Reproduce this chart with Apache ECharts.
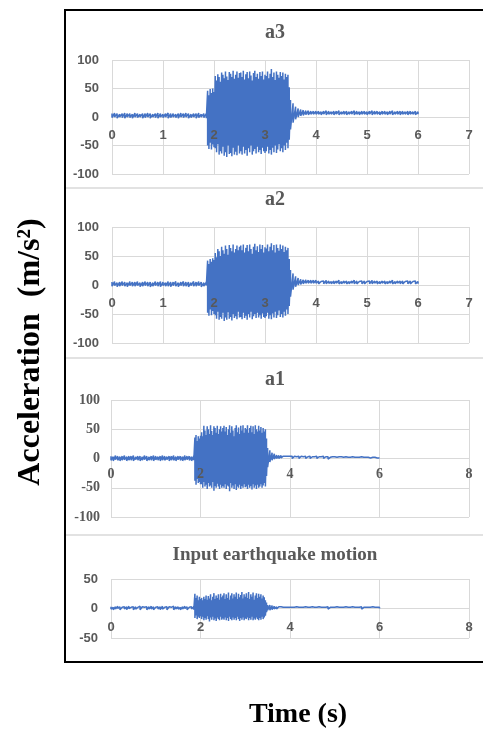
<!DOCTYPE html>
<html>
<head>
<meta charset="utf-8">
<script src="https://cdn.jsdelivr.net/npm/echarts@6/dist/echarts.min.js"></script>
<style>
html, body { margin: 0; padding: 0; background: #fff; }
#main { width: 483px; height: 731px; }
</style>
</head>
<body>
<div id="main"></div>
<script>
// sampling of the records: before shaking, strong shaking, decay, tail
var segStart = [0, 1.875, 3.55, 4.05];
var segStep = [0.05, 0.025, 0.05, 0.05];
var segCount = [38, 66, 10, 40];

// peak (hi) and trough (lo) readings at each sample, m/s2
var a3Hi = [].concat(
    [6,7,6,5,6,7,6,6,5,7, 6,5,6,6,7,6,5,6,7,6, 5,6,7,6,6,5,6,7,6,7, 6,5,6,6,7,5,6,6],
    [46,38,49,42,50,44, 72,64,75,70,62,78,74,68,80,71,65,79,76,70,81,67,74,80,69,77,
     78,70,81,66,75,79,68,80,73,64,77,81,70,76,67,79,72,80,66,74,
     72,80,68,76,84,70,78,65,80,74,69,79,72,78,66,76,70,74,52,30],
    [24,18,15,13,12,11,11,10,10,10],
    [10,9,10,11,10,9,10,10,11,9, 10,10,9,10,11,10,9,10,10,9, 10,11,10,10,9,10,10,9,10,11, 9,10,10,10,9,10,10,9,10,9]
);
var a3Lo = [].concat(
    [-1,0,-2,0,-1,-2,0,-1,-2,0, -1,0,-2,-1,0,-2,0,-1,-2,0, -1,0,-2,-1,0,-1,-2,0,-1,0, -2,-1,0,-2,-1,0,-1,-2],
    [-50,-56,-45,-57,-48,-53, -55,-62,-48,-66,-60,-64,-52,-68,-62,-70,-50,-65,-63,-69,-54,-66,-61,-67,-50,-64,
     -60,-66,-52,-64,-58,-68,-55,-62,-50,-66,-60,-56,-64,-52,-62,-58,-65,-54,-60,-63,
     -60,-52,-64,-58,-66,-54,-62,-50,-63,-57,-48,-60,-55,-62,-50,-58,-45,-55,-40,-22],
    [-10,-4,0,2,3,4,4,5,5,5],
    [5,4,5,4,5,5,4,5,4,5, 5,4,5,5,4,5,4,5,5,4, 5,4,5,5,4,5,5,4,5,4, 5,5,4,5,5,4,5,5,4,5]
);

var a2Hi = [].concat(
    [5,6,4,5,6,5,4,6,5,5, 6,4,5,6,5,5,4,6,5,6, 5,4,6,5,5,6,4,5,6,5, 5,4,6,5,6,5,4,5],
    [42,36,45,40,46,43, 55,48,62,58,50,66,60,54,68,62,52,69,64,58,70,56,62,68,60,66,
     68,60,70,56,64,69,58,70,62,54,66,71,60,67,57,70,62,69,56,65,
     63,70,58,66,72,60,69,56,70,64,59,70,62,68,57,66,60,64,45,26],
    [20,15,12,10,9,9,8,8,8,8],
    [7,6,7,8,7,6,7,7,8,6, 7,7,6,7,8,7,6,7,7,6, 7,8,7,7,6,7,7,6,7,8, 6,7,7,7,6,7,7,6,7,6]
);
var a2Lo = [].concat(
    [-2,-1,-3,-2,-1,-2,-3,-1,-2,-2, -1,-3,-2,-1,-2,-3,-2,-1,-2,-3, -1,-2,-2,-3,-1,-2,-3,-1,-2,-2, -3,-1,-2,-2,-1,-3,-2,-1],
    [-48,-53,-42,-52,-45,-50, -52,-58,-46,-60,-55,-58,-48,-62,-56,-60,-47,-58,-55,-61,-50,-57,-54,-59,-46,-56,
     -55,-59,-48,-57,-53,-60,-50,-56,-46,-59,-54,-50,-57,-48,-56,-52,-58,-49,-55,-57,
     -54,-48,-58,-52,-59,-49,-56,-46,-57,-52,-44,-55,-50,-56,-46,-53,-42,-50,-36,-20],
    [-8,-3,0,1,2,3,3,3,3,3],
    [2,3,2,2,3,2,2,3,2,2, 3,2,2,3,2,2,3,2,2,3, 2,2,3,2,2,3,2,2,3,2, 2,3,2,2,3,2,2,3,2,2]
);

var a1Hi = [].concat(
    [4,3,5,4,3,4,5,3,4,4, 5,3,4,4,3,5,4,3,4,5, 4,3,4,5,4,3,4,4,5,3, 4,4,3,5,4,4,3,4],
    [36,40,30,38,34,39, 45,38,56,48,40,55,50,42,57,47,40,55,52,44,56,42,50,55,46,52,
     56,46,54,40,50,57,44,55,48,38,52,57,45,53,42,56,48,57,44,52,
     50,57,44,52,56,45,55,42,57,50,46,56,48,54,44,52,46,50,34,18],
    [14,10,8,6,5,5,4,4,4,4],
    [4,4,3,4,4,3,4,3,4,3, 3,4,3,3,4,3,3,2,3,3, 2,3,3,2,3,2,2,3,2,2, 2,3,2,2,2,1,2,2,1,1]
);
var a1Lo = [].concat(
    [-3,-4,-2,-3,-4,-3,-2,-4,-3,-3, -4,-2,-3,-4,-3,-2,-4,-3,-3,-4, -2,-3,-4,-3,-3,-2,-4,-3,-3,-4, -2,-3,-4,-3,-2,-3,-4,-3],
    [-38,-45,-35,-42,-40,-44, -44,-50,-40,-48,-45,-52,-42,-48,-46,-50,-40,-55,-47,-50,-43,-48,-52,-45,-50,-47,
     -50,-44,-52,-46,-48,-56,-42,-50,-46,-52,-44,-54,-48,-50,-45,-52,-47,-50,-44,-49,
     -48,-52,-45,-50,-47,-53,-44,-50,-46,-52,-45,-50,-48,-44,-50,-46,-42,-48,-30,-15],
    [-6,-3,-1,0,0,1,1,1,1,1],
    [0,1,0,0,1,0,0,1,0,0, 0,0,1,0,0,0,-1,0,0,0, -1,0,0,-1,0,0,-1,0,0,-1, 0,0,-1,0,0,-1,0,0,-1,0]
);

var inHi = [].concat(
    [3,2,3,4,3,2,3,3,4,2, 3,3,2,4,3,2,3,3,4,3, 2,3,3,4,2,3,3,2,4,3, 3,2,3,4,3,2,3,3],
    [25,18,22,14,20,16, 18,14,20,16,22,15,21,17,24,14,20,26,16,22,18,24,15,25,19,22,
     26,16,24,18,27,15,22,26,17,24,20,27,16,25,19,23,28,17,24,20,
     26,18,28,16,24,20,27,15,22,26,18,25,20,24,17,22,19,14,10,6],
    [6,5,4,3,3,3,2,2,2,2],
    [2,2,3,2,2,2,3,2,2,3, 2,2,3,2,2,2,3,2,2,2, 3,2,2,2,3,2,2,3,2,2, 2,3,2,2,2,2,3,2,2,2]
);
var inLo = [].concat(
    [-1,-2,-1,0,-2,-1,-1,-2,0,-1, -2,-1,-1,-2,0,-1,-2,-1,-1,-2, 0,-1,-2,-1,-1,-2,0,-1,-2,-1, -1,-2,-1,0,-2,-1,-1,-2],
    [-16,-12,-18,-14,-16,-13, -18,-14,-20,-16,-19,-13,-18,-22,-15,-19,-14,-20,-17,-21,-15,-18,-20,-14,-19,-17,
     -19,-15,-20,-16,-21,-14,-18,-20,-15,-19,-16,-20,-14,-18,-21,-16,-19,-15,-20,-17,
     -18,-15,-20,-16,-19,-14,-20,-17,-19,-15,-18,-20,-16,-19,-14,-18,-15,-12,-6,-3],
    [-3,-2,-1,-1,0,0,0,0,0,0],
    [0,-1,0,0,-1,0,0,-1,0,0, -1,0,0,-1,0,0,-1,0,0,-1, 0,0,-1,0,0,-1,0,0,-1,0, 0,-1,0,0,-1,0,0,-1,0,0]
);

var times = [];
for (var s = 0; s < segStart.length; s++) {
    for (var k = 0; k < segCount[s]; k++) {
        times.push(+(segStart[s] + k * segStep[s]).toFixed(3));
    }
}

// each sample drawn as a peak then a trough so the record reads as a dense trace
function trace(hi, lo) {
    var pts = [];
    for (var i = 0; i < times.length; i++) {
        pts.push([times[i], hi[i]]);
        pts.push([times[i], lo[i]]);
    }
    return pts;
}

var sansLabel = { color: '#595959', fontFamily: 'Liberation Sans', fontWeight: 'bold', fontSize: 13 };
var serifLabel = { color: '#595959', fontFamily: 'Liberation Serif', fontWeight: 'bold', fontSize: 14 };

var panels = [
    { name: 'a3', hi: a3Hi, lo: a3Lo, box: { left: 112, top: 60, width: 357, height: 114 },
      xMax: 7, xStep: 1, yMax: 100, label: sansLabel, xMargin: 12, yMargin: 13, titleY: 33, titleSize: 20 },
    { name: 'a2', hi: a2Hi, lo: a2Lo, box: { left: 112, top: 227, width: 357, height: 116 },
      xMax: 7, xStep: 1, yMax: 100, label: sansLabel, xMargin: 12, yMargin: 13, titleY: 200, titleSize: 20 },
    { name: 'a1', hi: a1Hi, lo: a1Lo, box: { left: 111, top: 400, width: 358, height: 117 },
      xMax: 8, xStep: 2, yMax: 100, label: serifLabel, xMargin: 9, yMargin: 11, titleY: 380, titleSize: 20 },
    { name: 'Input earthquake motion', hi: inHi, lo: inLo, box: { left: 111, top: 579, width: 358, height: 59 },
      xMax: 8, xStep: 2, yMax: 50, label: sansLabel, xMargin: 12, yMargin: 13, titleY: 555, titleSize: 19 }
];

var option = {
    animation: false,
    grid: [],
    xAxis: [],
    yAxis: [],
    series: [],
    graphic: [
        { type: 'rect', shape: { x: 65, y: 10, width: 440, height: 652 },
          style: { fill: 'none', stroke: '#000', lineWidth: 2 } },
        { type: 'line', shape: { x1: 66, y1: 188, x2: 483, y2: 188 }, style: { stroke: '#d9d9d9', lineWidth: 1.5 } },
        { type: 'line', shape: { x1: 66, y1: 358, x2: 483, y2: 358 }, style: { stroke: '#d9d9d9', lineWidth: 1.5 } },
        { type: 'line', shape: { x1: 66, y1: 535, x2: 483, y2: 535 }, style: { stroke: '#d9d9d9', lineWidth: 1.5 } },
        { type: 'text', x: 31, y: 352, rotation: Math.PI / 2,
          style: { text: 'Acceleration  (m/s²)', fontFamily: 'Liberation Serif', fontWeight: 'bold',
                   fontSize: 32, fill: '#000', align: 'center', verticalAlign: 'middle' } },
        { type: 'text', x: 298, y: 715,
          style: { text: 'Time (s)', fontFamily: 'Liberation Serif', fontWeight: 'bold',
                   fontSize: 28, fill: '#000', align: 'center', verticalAlign: 'middle' } }
    ]
};

panels.forEach(function (p, i) {
    option.grid.push(p.box);
    // gridlines and the zero line sit under the trace
    option.xAxis.push({
        type: 'value', gridIndex: i, min: 0, max: p.xMax, interval: p.xStep, position: 'bottom',
        axisLine: { onZero: true, lineStyle: { color: '#d9d9d9', width: 1 } },
        axisTick: { show: false },
        axisLabel: { show: false },
        splitLine: { lineStyle: { color: '#d9d9d9', width: 1 } }
    });
    // tick numbers are drawn over the trace, hung from the zero line
    option.xAxis.push({
        type: 'value', gridIndex: i, min: 0, max: p.xMax, interval: p.xStep, position: 'top',
        offset: -p.box.height / 2, z: 5,
        axisLine: { show: false, onZero: false },
        axisTick: { show: false },
        splitLine: { show: false },
        axisLabel: Object.assign({ inside: true, margin: p.xMargin }, p.label)
    });
    option.yAxis.push({
        type: 'value', gridIndex: i, min: -p.yMax, max: p.yMax, interval: 50,
        axisLine: { show: false },
        axisTick: { show: false },
        splitLine: { lineStyle: { color: '#d9d9d9', width: 1 } },
        axisLabel: Object.assign({ margin: p.yMargin }, p.label)
    });
    option.series.push({
        type: 'line', xAxisIndex: 2 * i, yAxisIndex: i,
        data: trace(p.hi, p.lo),
        symbol: 'none', silent: true,
        lineStyle: { color: '#4472C4', width: 1.5 },
        itemStyle: { color: '#4472C4' }
    });
    option.graphic.push({
        type: 'text', x: 275, y: p.titleY,
        style: { text: p.name, fontFamily: 'Liberation Serif', fontWeight: 'bold', fontSize: p.titleSize,
                 fill: '#595959', align: 'center', verticalAlign: 'middle' }
    });
});

var chart = echarts.init(document.getElementById('main'));
chart.setOption(option);
</script>
</body>
</html>
